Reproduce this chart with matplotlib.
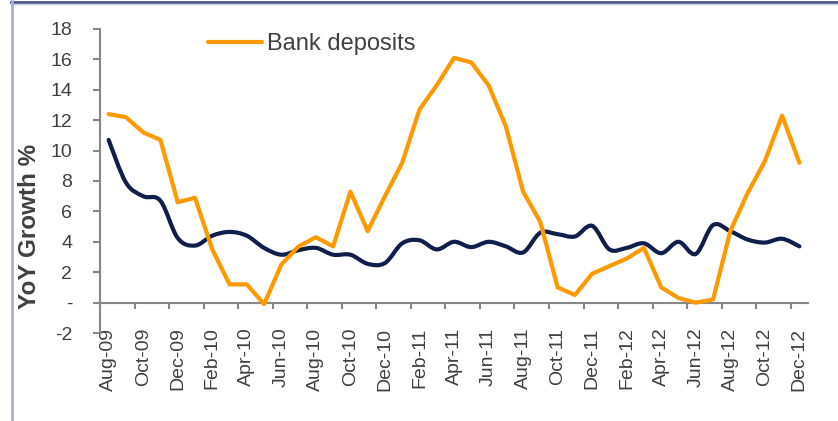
import numpy as np
import matplotlib.pyplot as plt
from matplotlib.path import Path
from matplotlib.patches import PathPatch
from matplotlib.lines import Line2D
from matplotlib.ticker import FixedLocator, FuncFormatter

plt.rcParams['font.family'] = ['Liberation Sans', 'DejaVu Sans']

# Data
months = ["Aug-09", "Sep-09", "Oct-09", "Nov-09", "Dec-09", "Jan-10", "Feb-10",
          "Mar-10", "Apr-10", "May-10", "Jun-10", "Jul-10", "Aug-10", "Sep-10",
          "Oct-10", "Nov-10", "Dec-10", "Jan-11", "Feb-11", "Mar-11", "Apr-11",
          "May-11", "Jun-11", "Jul-11", "Aug-11", "Sep-11", "Oct-11", "Nov-11",
          "Dec-11", "Jan-12", "Feb-12", "Mar-12", "Apr-12", "May-12", "Jun-12",
          "Jul-12", "Aug-12", "Sep-12", "Oct-12", "Nov-12", "Dec-12"]
bank_deposits = [12.4, 12.2, 11.2, 10.7, 6.6, 6.9, 3.5, 1.2, 1.2, -0.1,
                 2.5, 3.7, 4.3, 3.7, 7.3, 4.7, 7.0, 9.2, 12.7, 14.3,
                 16.1, 15.8, 14.3, 11.6, 7.3, 5.3, 1.0, 0.5, 1.9, 2.4,
                 2.9, 3.6, 1.0, 0.3, 0.0, 0.2, 4.7, 7.2, 9.3, 12.3, 9.2]
other_series = [10.7, 7.9, 7.0, 6.7, 4.25, 3.75, 4.4, 4.65, 4.4, 3.6,
                3.15, 3.45, 3.6, 3.15, 3.15, 2.55, 2.6, 3.9, 4.1, 3.5,
                4.0, 3.65, 4.0, 3.7, 3.3, 4.6, 4.5, 4.35, 5.05, 3.5,
                3.6, 3.9, 3.25, 4.0, 3.2, 5.1, 4.7, 4.15, 3.95, 4.2, 3.7]
y_ticks = list(range(-2, 19, 2))

ORANGE = "#FF9900"
NAVY = "#0F1E4B"
GREY = "#878787"
TEXT = "#404040"


def smooth_path(xs, ys):
    # Bezier curve through the points, like a spreadsheet "smoothed line"
    pts = np.column_stack([xs, ys]).astype(float)
    verts = [pts[0]]
    codes = [Path.MOVETO]
    n = len(pts)
    for i in range(n - 1):
        p0 = pts[i - 1] if i > 0 else pts[i]
        p1 = pts[i]
        p2 = pts[i + 1]
        p3 = pts[i + 2] if i + 2 < n else pts[i + 1]
        verts += [p1 + (p2 - p0) / 6, p2 - (p3 - p1) / 6, p2]
        codes += [Path.CURVE4] * 3
    return Path(verts, codes)


fig = plt.figure(figsize=(8.38, 4.21), dpi=100)
ax = fig.add_axes([100 / 838, 1 - 333 / 421, 708 / 838, 304 / 421])

x = np.arange(len(months))
ax.add_patch(PathPatch(smooth_path(x, other_series), fill=False,
                       edgecolor=NAVY, lw=3.0, capstyle='round',
                       joinstyle='round', zorder=3))
dep_line, = ax.plot(x, bank_deposits, color=ORANGE, lw=3.0,
                    solid_capstyle='round', solid_joinstyle='round', zorder=4)

ax.set_xlim(-0.5, len(months) - 0.5)
ax.set_ylim(-2, 18)

for side in ['top', 'right']:
    ax.spines[side].set_visible(False)
ax.spines['left'].set_color(GREY)
ax.spines['bottom'].set_color(GREY)
ax.spines['left'].set_linewidth(1.5)
ax.spines['bottom'].set_linewidth(1.5)
ax.spines['bottom'].set_position(('data', 0))

ax.set_yticks(y_ticks)
ax.yaxis.set_major_formatter(FuncFormatter(lambda v, p: "-" if v == 0 else f"{v:.0f}"))
ax.tick_params(axis='y', length=5, width=1.5, color=GREY, pad=15,
               labelsize=14, labelcolor=TEXT)

ax.set_xticks(x[::2])
ax.set_xticklabels(months[::2], rotation=90)
ax.xaxis.set_minor_locator(FixedLocator(np.arange(-0.5, len(months) - 1, 2)))
ax.tick_params(axis='x', which='major', length=0, pad=18,
               labelsize=14, labelcolor=TEXT)
ax.tick_params(axis='x', which='minor', length=4.5, width=1.5, color=GREY)

fig.text(30 / 838, 1 - 226 / 421, "YoY Growth %", rotation=90, ha='center',
         va='center', fontsize=17.5, fontweight='bold', color=TEXT)

ax.legend([dep_line], ["Bank deposits"], loc='center left',
          bbox_to_anchor=(208 / 838, 1 - 44 / 421), bbox_transform=fig.transFigure,
          frameon=False, borderpad=0, borderaxespad=0, handlelength=2.3,
          handletextpad=0.2, prop={'size': 17}, labelcolor=TEXT)

# outer frame of the exported chart
fig.add_artist(Line2D([11 / 838, 1], [1 - 1.5 / 421, 1 - 1.5 / 421],
                      transform=fig.transFigure, color="#4B5785", lw=2))
fig.add_artist(Line2D([11 / 838, 1], [1 - 4 / 421, 1 - 4 / 421],
                      transform=fig.transFigure, color="#C8CCE0", lw=1))
fig.add_artist(Line2D([12 / 838, 12 / 838], [0, 1 - 1 / 421],
                      transform=fig.transFigure, color="#A9AFDA", lw=2))

fig.savefig("out.png", dpi=100)
